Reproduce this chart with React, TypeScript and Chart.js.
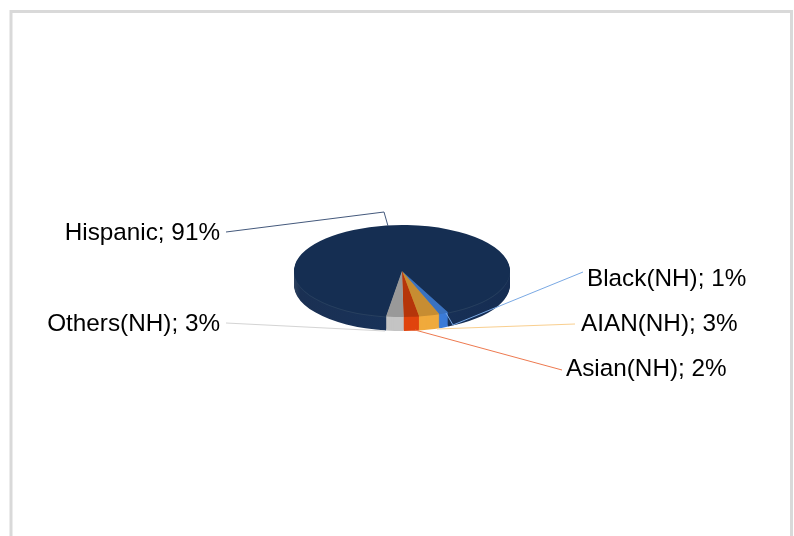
import React, { useEffect, useRef } from "react";
import { Chart, registerables } from "chart.js";

Chart.register(...registerables);

const categories = ["Hispanic", "Black(NH)", "AIAN(NH)", "Asian(NH)", "Others(NH)"];
const shares = [90.6, 1.4, 3.1, 2.3, 2.6];
const topColors = ["#152e52", "#3a72c0", "#c78d32", "#b5350a", "#999999"];
const sideColors = ["#183259", "#3b7bd8", "#f0aa3c", "#e0440e", "#c4c4c4"];
const edgeColors = ["#28405f", "#3b7bd8", "#f0aa3c", "#e0440e", "#c4c4c4"];
const lineColors = ["#44597c", "#7aa9e4", "#f9cf8f", "#ee7a50", "#d4d4d4"];

const labelPositions = [
  { x: 220, y: 233, align: "right" },
  { x: 587, y: 279, align: "left" },
  { x: 581, y: 324, align: "left" },
  { x: 566, y: 369, align: "left" },
  { x: 220, y: 324, align: "right" },
];
const leaderPaths = [
  [[226, 232], [384, 212], [388, 226]],
  [[583, 272], [453, 325], [446, 313]],
  [[575, 324], [437, 329]],
  [[562, 370], [415, 330]],
  [[226, 323], [385, 331]],
];
const TILT = 0.426;
const DEPTH = 14;

const pie3d = {
  id: "pie3d",
  beforeDraw(chart: any) {
    const { ctx, width, height } = chart;
    ctx.save();
    ctx.fillStyle = "#ffffff";
    ctx.fillRect(0, 0, width, height);
    ctx.strokeStyle = "#d9d9d9";
    ctx.lineWidth = 3;
    ctx.strokeRect(11, 11.5, 780.5, 600);
    ctx.restore();
  },
  beforeDatasetsDraw(chart: any) {
    const { ctx } = chart;
    const arcs = chart.getDatasetMeta(0).data;
    const paint = (offset: number, colorFor: (i: number) => any) => {
      arcs.forEach((arc: any, i: number) => {
        const original = arc.options;
        ctx.save();
        ctx.translate(arc.x, arc.y + offset);
        ctx.scale(1, TILT);
        ctx.translate(-arc.x, -arc.y);
        arc.options = { ...original, backgroundColor: colorFor(i), borderWidth: 0 };
        arc.draw(ctx);
        arc.options = original;
        ctx.restore();
      });
    };
    const first = arcs[0];
    const grad = ctx.createLinearGradient(first.x - first.outerRadius, 0, first.x + first.outerRadius, 0);
    grad.addColorStop(0, "#2f425f");
    grad.addColorStop(0.03, "#1a3053");
    grad.addColorStop(0.45, sideColors[0]);
    grad.addColorStop(1, "#162d52");
    for (let d = DEPTH; d >= 2; d--) {
      paint(d, (i) => (i === 0 ? grad : sideColors[i]));
    }
    paint(1, (i) => edgeColors[i]);
    paint(0, (i) => topColors[i]);
    return false;
  },
  afterDraw(chart: any) {
    const { ctx } = chart;
    ctx.save();
    ctx.lineWidth = 1;
    leaderPaths.forEach((path, i) => {
      ctx.strokeStyle = lineColors[i];
      ctx.beginPath();
      path.forEach(([x, y], k) => (k === 0 ? ctx.moveTo(x, y) : ctx.lineTo(x, y)));
      ctx.stroke();
    });
    ctx.fillStyle = "#000000";
    ctx.font = '24.3px "Liberation Sans", Arial, sans-serif';
    ctx.textBaseline = "middle";
    categories.forEach((name, i) => {
      const p = labelPositions[i];
      ctx.textAlign = p.align;
      ctx.fillText(`${name}; ${Math.round(shares[i])}%`, p.x, p.y);
    });
    ctx.restore();
  },
};

export default function App() {
  const ref = useRef<HTMLCanvasElement | null>(null);
  useEffect(() => {
    document.body.style.margin = "0";
    const chart = new Chart(ref.current as HTMLCanvasElement, {
      type: "pie",
      data: {
        labels: categories,
        datasets: [{ data: shares, backgroundColor: topColors, borderWidth: 0 }],
      },
      options: {
        responsive: false,
        animation: false,
        devicePixelRatio: 1,
        rotation: 188.5,
        layout: { padding: { left: 294, right: 284, top: 163, bottom: 157 } },
        plugins: { legend: { display: false }, tooltip: { enabled: false } },
      },
      plugins: [pie3d],
    } as any);
    return () => chart.destroy();
  }, []);
  return (
    <div style={{ position: "fixed", left: 0, top: 0, width: 794, height: 536, overflow: "hidden" }}>
      <canvas ref={ref} width={794} height={536} style={{ display: "block" }} />
    </div>
  );
}
